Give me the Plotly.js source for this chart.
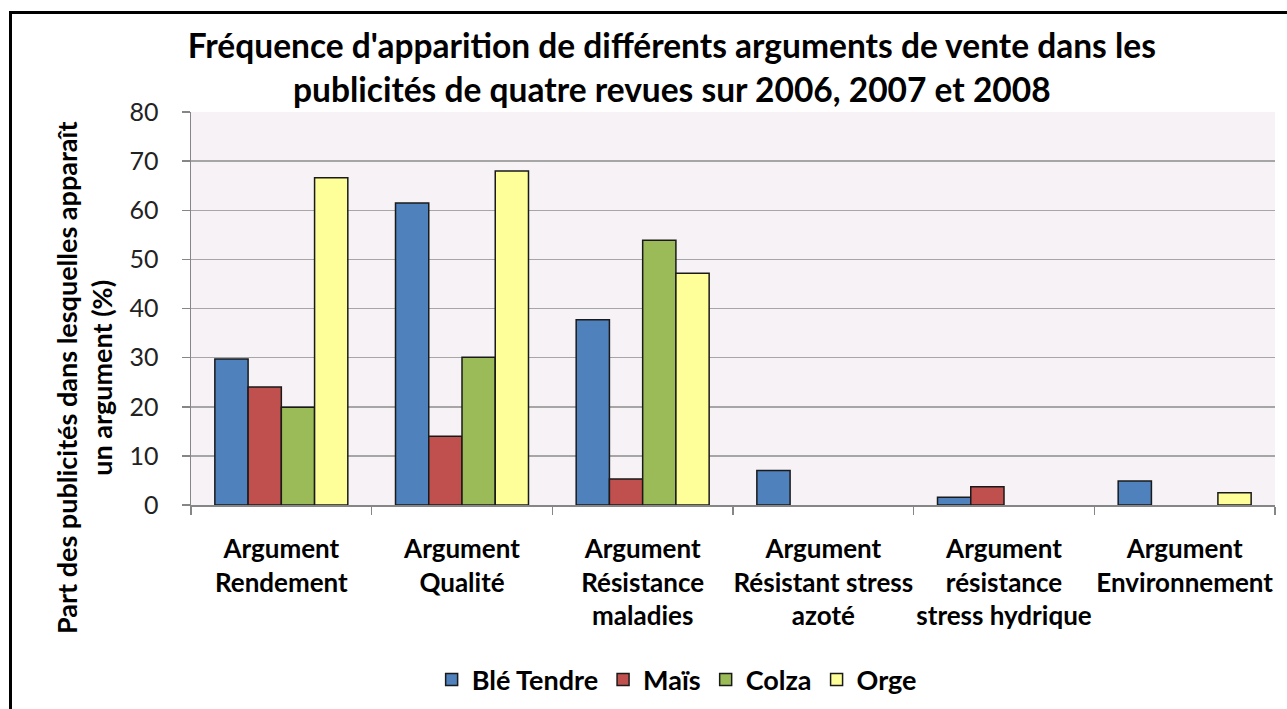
<!DOCTYPE html>
<html>
<head>
<meta charset="utf-8">
<script src="https://cdn.plot.ly/plotly-3.0.1.min.js"></script>
<style>
body{margin:0;padding:0;background:#fff;}
#chart{width:1287px;height:709px;}
#frame{position:absolute;left:9px;top:11px;width:2000px;height:2000px;border-left:3px solid #000;border-top:3px solid #000;pointer-events:none;}
</style>
</head>
<body>
<div id="chart"></div>
<div id="frame"></div>
<script>
const categories = [
  "Argument<br>Rendement",
  "Argument<br>Qualité",
  "Argument<br>Résistance<br>maladies",
  "Argument<br>Résistant stress<br>azoté",
  "Argument<br>résistance<br>stress hydrique",
  "Argument<br>Environnement"
];
const seriesNames = ["Blé Tendre", "Maïs", "Colza", "Orge"];
// null = argument absent (no bar drawn)
const bleTendre = [29.7, 61.5, 37.7, 7.0, 1.6, 4.9];
const mais      = [24.0, 14.0, 5.3, null, 3.7, null];
const colza     = [19.9, 30.1, 53.9, null, null, null];
const orge      = [66.6, 68.0, 47.2, null, null, 2.5];
const yTicks = [0, 10, 20, 30, 40, 50, 60, 70, 80];

const colors = ["#4F81BD", "#C0504D", "#9BBB59", "#FFFF99"];
const values = [bleTendre, mais, colza, orge];
const FONT = "Lato, 'Open Sans', sans-serif";

const traces = values.map((v, i) => ({
  type: "bar",
  name: seriesNames[i],
  x: categories,
  y: v,
  marker: {color: colors[i], line: {color: "#1a1a1a", width: 1.5}},
  hoverinfo: "x+y+name"
}));

const layout = {
  width: 1287, height: 709,
  margin: {l: 191, r: 12, t: 112, b: 204, pad: 0},
  paper_bgcolor: "#ffffff",
  plot_bgcolor: "#F6F2F6",
  barmode: "group",
  bargap: 0.264,
  bargroupgap: 0,
  font: {family: FONT, color: "#000"},
  title: {
    text: "<b>Fréquence d'apparition de différents arguments de vente dans les<br>publicités de quatre revues sur 2006, 2007 et 2008</b>",
    font: {family: FONT, size: 33.5, color: "#000"},
    x: 0.522, xref: "container", xanchor: "center",
    y: 0.918, yref: "container", yanchor: "middle"
  },
  xaxis: {
    type: "category",
    tickson: "boundaries",
    tickangle: 0,
    automargin: false,
    ticks: "outside", ticklen: 8, tickcolor: "#868686", tickwidth: 1.5,
    showline: true, linecolor: "#868686", linewidth: 1.5,
    showgrid: false,
    ticklabelstandoff: 20,
    tickfont: {family: FONT, size: 26, color: "#000", weight: "bold"},
    fixedrange: true
  },
  yaxis: {
    range: [0, 80],
    tickvals: yTicks,
    ticktext: yTicks.map(String),
    automargin: false,
    ticks: "outside", ticklen: 8, tickcolor: "#868686", tickwidth: 1.5,
    showline: true, linecolor: "#868686", linewidth: 1.5,
    showgrid: true, gridcolor: "#A6A6A6", gridwidth: 1.5,
    zeroline: false,
    ticklabelstandoff: 18,
    tickfont: {family: FONT, size: 25, color: "#222"},
    fixedrange: true
  },
  annotations: [{
    text: "<b>Part des publicités dans lesquelles apparaît<br>un argument (%)</b>",
    textangle: -90,
    xref: "paper", yref: "paper",
    x: (84 - 191) / 1084, y: (505 - 378) / 393,
    xanchor: "center", yanchor: "middle",
    showarrow: false,
    font: {family: FONT, size: 27, color: "#000"}
  }],
  legend: {
    orientation: "h",
    x: 0.448, xanchor: "center",
    yref: "container",
    y: 1 - 680 / 709, yanchor: "middle",
    font: {family: FONT, size: 27, color: "#000", weight: "bold"},
    traceorder: "normal",
    itemwidth: 30
  },
  showlegend: true
};

Plotly.newPlot("chart", traces, layout, {displayModeBar: false, staticPlot: true});
</script>
</body>
</html>
